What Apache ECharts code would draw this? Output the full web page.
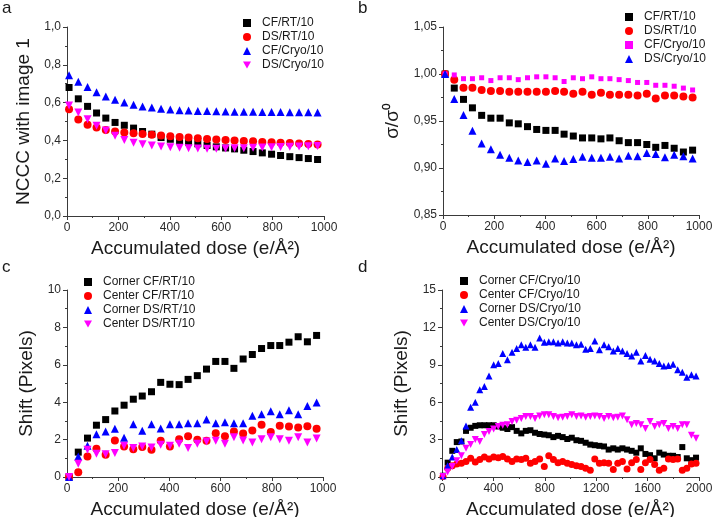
<!DOCTYPE html>
<html>
<head>
<meta charset="utf-8">
<script src="https://cdn.jsdelivr.net/npm/echarts@6/dist/echarts.min.js"></script>
<style>
  html, body { margin: 0; padding: 0; background: #fff; }
  #wrap { position: relative; width: 712px; height: 517px; }
  .panel { position: absolute; width: 356px; }
</style>
</head>
<body>
<div id="wrap">
  <div id="pa" class="panel" style="left:0;top:0;height:259px"></div>
  <div id="pb" class="panel" style="left:356px;top:0;height:259px"></div>
  <div id="pc" class="panel" style="left:0;top:259px;height:258px"></div>
  <div id="pd" class="panel" style="left:356px;top:259px;height:258px"></div>
</div>
<script>
// accumulated dose per frame (e/A^2)
var dose = [8, 44, 80, 115, 151, 187, 223, 259, 294, 330, 366, 402, 438, 473, 509, 545, 581, 617, 652, 688,
  724, 760, 796, 831, 867, 903, 939, 975, 1010, 1046, 1082, 1118, 1154, 1189, 1225, 1261, 1297, 1333, 1368, 1404,
  1440, 1476, 1512, 1547, 1583, 1619, 1655, 1691, 1726, 1762, 1798, 1834, 1870, 1905, 1941, 1977];
var doseShort = dose.slice(0, 28);

// a: NCCC with image 1
var aCfRt = [0.68, 0.62, 0.58, 0.545, 0.518, 0.495, 0.48, 0.465, 0.447, 0.433, 0.415, 0.406, 0.396, 0.389, 0.382, 0.373, 0.366, 0.36, 0.355, 0.348, 0.341, 0.334, 0.327, 0.32, 0.314, 0.309, 0.304, 0.299];
var aDsRt = [0.565, 0.51, 0.483, 0.468, 0.455, 0.447, 0.442, 0.438, 0.434, 0.43, 0.426, 0.422, 0.418, 0.415, 0.412, 0.408, 0.405, 0.402, 0.4, 0.397, 0.395, 0.392, 0.39, 0.388, 0.386, 0.383, 0.381, 0.378];
var aCfCryo = [0.745, 0.71, 0.683, 0.655, 0.632, 0.615, 0.6, 0.588, 0.58, 0.574, 0.568, 0.564, 0.56, 0.558, 0.556, 0.555, 0.554, 0.553, 0.552, 0.551, 0.551, 0.55, 0.55, 0.55, 0.549, 0.549, 0.549, 0.548];
var aDsCryo = [0.585, 0.548, 0.512, 0.478, 0.452, 0.425, 0.402, 0.388, 0.38, 0.373, 0.368, 0.364, 0.361, 0.359, 0.357, 0.356, 0.356, 0.357, 0.358, 0.359, 0.361, 0.362, 0.364, 0.365, 0.367, 0.368, 0.369, 0.37];

// b: sigma / sigma0
var bCfRt = [1.0, 0.985, 0.973, 0.964, 0.956, 0.953, 0.953, 0.948, 0.947, 0.944, 0.941, 0.94, 0.94, 0.936, 0.934, 0.932, 0.932, 0.931, 0.932, 0.929, 0.927, 0.927, 0.925, 0.922, 0.924, 0.921, 0.917, 0.919];
var bDsRt = [1.0, 0.994, 0.9855, 0.9855, 0.983, 0.982, 0.982, 0.981, 0.981, 0.981, 0.981, 0.981, 0.982, 0.981, 0.979, 0.981, 0.978, 0.98, 0.978, 0.978, 0.978, 0.977, 0.979, 0.974, 0.977, 0.977, 0.976, 0.975];
var bCfCryo = [1.0, 0.999, 0.995, 0.995, 0.996, 0.993, 0.996, 0.996, 0.994, 0.996, 0.997, 0.997, 0.996, 0.992, 0.996, 0.995, 0.997, 0.995, 0.995, 0.994, 0.993, 0.991, 0.991, 0.988, 0.988, 0.987, 0.985, 0.983];
var bDsCryo = [1.0, 0.9735, 0.9565, 0.9395, 0.926, 0.92, 0.914, 0.911, 0.908, 0.9065, 0.908, 0.9045, 0.91, 0.9075, 0.9095, 0.912, 0.911, 0.911, 0.912, 0.91, 0.913, 0.9125, 0.916, 0.915, 0.9115, 0.914, 0.9125, 0.91];

// c: shift, RT
var cCornerCf = [0, 1.33, 2.08, 2.77, 3.07, 3.53, 3.84, 4.16, 4.33, 4.56, 5.06, 4.96, 4.94, 5.22, 5.42, 5.77, 6.18, 6.18, 5.81, 6.31, 6.55, 6.87, 7.03, 7.03, 7.21, 7.5, 7.23, 7.57];
var cCenterCf = [0, 0.25, 1.1, 1.51, 1.19, 1.95, 1.63, 1.49, 1.6, 1.46, 1.94, 1.63, 2.02, 2.18, 1.99, 1.94, 2.34, 2.18, 2.43, 2.33, 2.49, 2.79, 2.4, 2.74, 2.7, 2.65, 2.72, 2.58];
var cCornerDs = [0, 1.1, 1.67, 2.29, 2.43, 2.58, 2.1, 2.82, 2.47, 2.82, 2.59, 2.82, 2.82, 2.88, 2.88, 3.07, 2.88, 2.93, 2.88, 2.88, 3.27, 3.36, 3.52, 3.36, 3.57, 3.36, 3.8, 3.98];
var cCenterDs = [0, 0.71, 1.46, 1.24, 1.21, 1.28, 1.67, 1.55, 1.63, 1.58, 1.72, 1.67, 1.78, 1.55, 1.78, 1.9, 1.94, 1.78, 2.13, 1.95, 1.85, 2.02, 2.13, 2.02, 1.94, 2.13, 1.85, 2.06];

// d: shift, Cryo
var dCornerCf = [0.1, 1.15, 2.1, 2.8, 2.85, 3.7, 3.95, 4.1, 4.15, 4.15, 4.15, 4.15, 4.05, 3.95, 3.85, 4.0, 3.7, 3.5, 3.7, 3.75,
  3.55, 3.45, 3.4, 3.35, 3.2, 3.3, 3.2, 3.05, 3.15, 2.95, 2.9, 2.75, 2.6, 2.55, 2.5, 2.45, 2.2, 2.3, 2.2, 2.3,
  2.2, 2.1, 1.95, 2.3, 1.85, 1.75, 1.5, 1.95, 1.8, 1.7, 1.7, 1.6, 2.4, 1.5, 1.35, 1.55];
var dCenterCf = [0.05, 0.7, 0.9, 1.05, 1.1, 1.25, 1.5, 1.2, 1.4, 1.6, 1.45, 1.6, 1.55, 1.65, 1.45, 1.25, 1.45, 1.4, 1.5, 1.1,
  1.25, 1.45, 0.85, 1.7, 1.4, 1.15, 1.25, 1.1, 1.0, 0.9, 0.85, 0.7, 0.55, 1.45, 1.1, 1.15, 1.1, 0.6, 1.1, 1.25,
  0.65, 1.15, 1.4, 0.6, 1.15, 1.4, 1.0, 0.55, 0.7, 1.45, 1.4, 1.45, 0.55, 0.7, 1.05, 1.1];
var dCornerDs = [0.1, 0.9, 1.6, 2.2, 2.9, 4.1, 5.6, 6.0, 7.0, 7.25, 8.1, 9.0, 9.1, 9.9, 9.4, 10.0, 10.3, 10.6, 10.4, 10.6,
  10.4, 11.15, 10.8, 10.85, 10.85, 10.75, 10.85, 10.75, 10.75, 10.6, 10.65, 10.25, 10.3, 10.9, 10.2, 10.6, 10.45, 10.1, 10.3, 10.1,
  9.9, 9.7, 10.0, 9.3, 9.75, 9.45, 9.3, 9.1, 8.9, 8.95, 9.05, 8.6, 8.4, 8.0, 8.2, 8.1];
var dCenterDs = [0.05, 0.4, 0.85, 1.3, 1.7, 2.3, 2.6, 3.0, 2.85, 3.4, 3.65, 3.85, 4.05, 4.15, 4.2, 4.45, 4.55, 4.7, 4.85, 4.85,
  4.7, 4.9, 5.0, 5.0, 4.85, 4.75, 4.8, 4.85, 5.0, 4.85, 4.9, 4.8, 4.85, 4.9, 4.85, 4.7, 4.85, 4.75, 4.8, 4.9,
  4.6, 4.2, 4.3, 4.2, 3.9, 4.45, 4.05, 4.2, 4.3, 3.9, 4.05, 3.9, 4.2, 4.2, 3.35, 3.1];

var FONT = '"Liberation Sans", Arial, sans-serif';
var DOWN = 'path://M0,0L10,0L5,9Z';
var AXIS_COLOR = '#3a3a3a';
var XNAME = 'Accumulated dose (e/\u00c5\u00b2)';

function pairs(xs, ys) {
  return ys.map(function(y, i) { return [xs[i], y]; });
}

function scatter(name, xs, ys, symbol, color, size) {
  return {
    type: 'scatter',
    name: name,
    symbol: symbol,
    symbolSize: size,
    itemStyle: { color: color, opacity: 1 },
    emphasis: { disabled: true },
    data: pairs(xs, ys)
  };
}

function valueAxis(opt) {
  return {
    type: 'value',
    min: opt.min,
    max: opt.max,
    interval: opt.interval,
    name: opt.name,
    nameLocation: 'middle',
    nameGap: opt.nameGap,
    nameRotate: opt.nameRotate,
    nameTextStyle: { fontFamily: FONT, fontSize: 19, color: '#1a1a1a' },
    axisLine: { show: true, onZero: false, lineStyle: { color: AXIS_COLOR, width: 1 } },
    axisTick: { show: true, inside: false, length: 4, lineStyle: { color: AXIS_COLOR } },
    minorTick: { show: true, splitNumber: 2, length: 2, lineStyle: { color: AXIS_COLOR } },
    splitLine: { show: false },
    axisLabel: {
      fontFamily: FONT, fontSize: 12, color: '#2a2a2a', margin: 6,
      formatter: function(v) { return v.toFixed(opt.digits).replace('.', ','); }
    }
  };
}

function legendAt(left, top, names) {
  return {
    orient: 'vertical',
    left: left,
    top: top,
    padding: 0,
    itemGap: 0,
    itemWidth: 8,
    itemHeight: 8,
    data: names,
    selectedMode: false,
    textStyle: { fontFamily: FONT, fontSize: 12, color: '#1a1a1a', lineHeight: 14, padding: [0, 0, 0, 6] }
  };
}

function panelTitle(letter) {
  return {
    text: letter, left: 2, top: 0, padding: 0,
    textStyle: { fontFamily: FONT, fontSize: 17, fontWeight: 'normal', color: '#1a1a1a' }
  };
}

function renderChart(id, option) {
  var chart = echarts.init(document.getElementById(id), null, { renderer: 'canvas' });
  option.animation = false;
  chart.setOption(option);
  return chart;
}

// panel a
renderChart('pa', {
  title: panelTitle('a'),
  grid: { left: 67, top: 27, width: 257, height: 189, outerBoundsMode: 'none' },
  xAxis: valueAxis({ min: 0, max: 1000, interval: 200, digits: 0, name: XNAME, nameGap: 20 }),
  yAxis: valueAxis({ min: 0, max: 1, interval: 0.2, digits: 1, name: 'NCCC with image 1', nameGap: 24, nameRotate: 90 }),
  legend: legendAt(243, 16, ['CF/RT/10', 'DS/RT/10', 'CF/Cryo/10', 'DS/Cryo/10']),
  series: [
    scatter('CF/RT/10', doseShort, aCfRt, 'rect', '#000000', 7),
    scatter('DS/RT/10', doseShort, aDsRt, 'circle', '#ff0000', 8),
    scatter('CF/Cryo/10', doseShort, aCfCryo, 'triangle', '#0000ff', 8),
    scatter('DS/Cryo/10', doseShort, aDsCryo, DOWN, '#ff00ff', 8)
  ]
});

// panel b
renderChart('pb', {
  title: panelTitle('b'),
  grid: { left: 87, top: 27, width: 256, height: 188, outerBoundsMode: 'none' },
  xAxis: valueAxis({ min: 0, max: 1000, interval: 200, digits: 0, name: XNAME, nameGap: 20 }),
  yAxis: valueAxis({ min: 0.85, max: 1.05, interval: 0.05, digits: 2, name: '\u03c3/\u03c3\u2070', nameGap: 34, nameRotate: 90 }),
  legend: legendAt(269, 10, ['CF/RT/10', 'DS/RT/10', 'CF/Cryo/10', 'DS/Cryo/10']),
  series: [
    scatter('CF/RT/10', doseShort, bCfRt, 'rect', '#000000', 7),
    scatter('DS/RT/10', doseShort, bDsRt, 'circle', '#ff0000', 8),
    scatter('CF/Cryo/10', doseShort, bCfCryo, 'rect', '#ff00ff', 5),
    scatter('DS/Cryo/10', doseShort, bDsCryo, 'triangle', '#0000ff', 8)
  ]
});

// panel c
renderChart('pc', {
  title: panelTitle('c'),
  grid: { left: 67, top: 31, width: 256, height: 187, outerBoundsMode: 'none' },
  xAxis: valueAxis({ min: 0, max: 1000, interval: 200, digits: 0, name: XNAME, nameGap: 19 }),
  yAxis: valueAxis({ min: 0, max: 10, interval: 2, digits: 0, name: 'Shift (Pixels)', nameGap: 22, nameRotate: 90 }),
  legend: legendAt(84, 16, ['Corner CF/RT/10', 'Center CF/RT/10', 'Corner DS/RT/10', 'Center DS/RT/10']),
  series: [
    scatter('Corner CF/RT/10', doseShort, cCornerCf, 'rect', '#000000', 7),
    scatter('Center CF/RT/10', doseShort, cCenterCf, 'circle', '#ff0000', 8),
    scatter('Corner DS/RT/10', doseShort, cCornerDs, 'triangle', '#0000ff', 8),
    scatter('Center DS/RT/10', doseShort, cCenterDs, DOWN, '#ff00ff', 8)
  ]
});

// panel d
renderChart('pd', {
  title: panelTitle('d'),
  grid: { left: 86, top: 31, width: 257, height: 187, outerBoundsMode: 'none' },
  xAxis: valueAxis({ min: 0, max: 2000, interval: 400, digits: 0, name: XNAME, nameGap: 19 }),
  yAxis: valueAxis({ min: 0, max: 15, interval: 3, digits: 0, name: 'Shift (Pixels)', nameGap: 21, nameRotate: 90 }),
  legend: legendAt(104, 15, ['Corner CF/Cryo/10', 'Center CF/Cryo/10', 'Corner DS/Cryo/10', 'Center DS/Cryo/10']),
  series: [
    scatter('Corner CF/Cryo/10', dose, dCornerCf, 'rect', '#000000', 6),
    scatter('Center CF/Cryo/10', dose, dCenterCf, 'circle', '#ff0000', 7),
    scatter('Corner DS/Cryo/10', dose, dCornerDs, 'triangle', '#0000ff', 7),
    scatter('Center DS/Cryo/10', dose, dCenterDs, DOWN, '#ff00ff', 7)
  ]
});
</script>
</body>
</html>
